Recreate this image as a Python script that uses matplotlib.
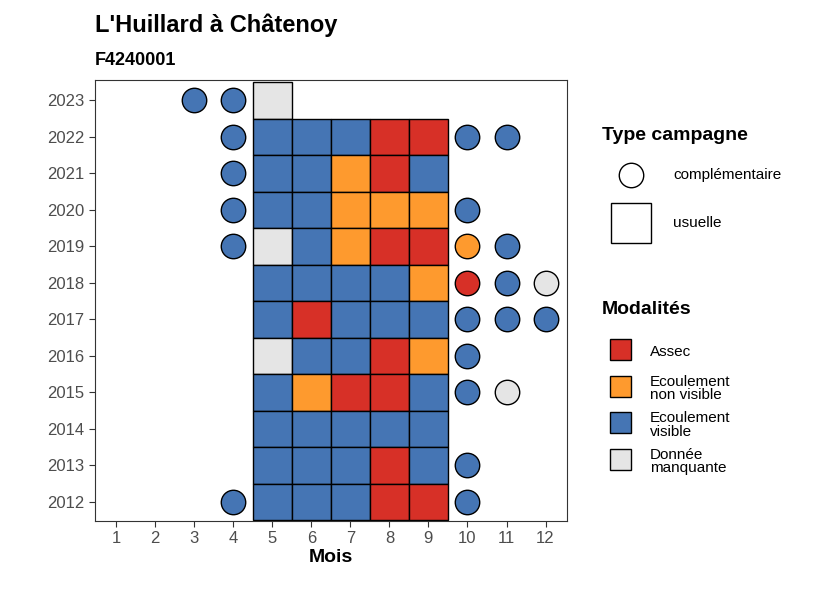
import matplotlib.pyplot as plt
from matplotlib.patches import Rectangle

years = list(range(2012, 2024))
months = list(range(1, 13))
# codes: A=Assec, O=Ecoulement non visible, B=Ecoulement visible, G=Donnee manquante
obs = {
    2023: {3: 'B', 4: 'B', 5: 'G'},
    2022: {4: 'B', 5: 'B', 6: 'B', 7: 'B', 8: 'A', 9: 'A', 10: 'B', 11: 'B'},
    2021: {4: 'B', 5: 'B', 6: 'B', 7: 'O', 8: 'A', 9: 'B'},
    2020: {4: 'B', 5: 'B', 6: 'B', 7: 'O', 8: 'O', 9: 'O', 10: 'B'},
    2019: {4: 'B', 5: 'G', 6: 'B', 7: 'O', 8: 'A', 9: 'A', 10: 'O', 11: 'B'},
    2018: {5: 'B', 6: 'B', 7: 'B', 8: 'B', 9: 'O', 10: 'A', 11: 'B', 12: 'G'},
    2017: {5: 'B', 6: 'A', 7: 'B', 8: 'B', 9: 'B', 10: 'B', 11: 'B', 12: 'B'},
    2016: {5: 'G', 6: 'B', 7: 'B', 8: 'A', 9: 'O', 10: 'B'},
    2015: {5: 'B', 6: 'O', 7: 'A', 8: 'A', 9: 'B', 10: 'B', 11: 'G'},
    2014: {5: 'B', 6: 'B', 7: 'B', 8: 'B', 9: 'B'},
    2013: {5: 'B', 6: 'B', 7: 'B', 8: 'A', 9: 'B', 10: 'B'},
    2012: {4: 'B', 5: 'B', 6: 'B', 7: 'B', 8: 'A', 9: 'A', 10: 'B'},
}
usual_months = [5, 6, 7, 8, 9]
colors = {'A': '#d73027', 'O': '#fe9a2e', 'B': '#4575b4', 'G': '#e5e5e5'}
labels = {'A': 'Assec', 'O': 'Ecoulement\nnon visible',
          'B': 'Ecoulement\nvisible', 'G': 'Donnée\nmanquante'}

plt.rcParams['font.family'] = ['Liberation Sans', 'DejaVu Sans']
fig = plt.figure(figsize=(8.26, 5.9), dpi=100)
ax = fig.add_axes([0.115, 0.117, 0.571, 0.747])

for y, row in obs.items():
    for m, c in row.items():
        if m in usual_months:
            ax.add_patch(Rectangle((m - 0.5, y - 0.5), 1, 1, facecolor=colors[c],
                                   edgecolor='black', linewidth=1, zorder=2))
        else:
            ax.scatter(m, y, s=310, color=colors[c], edgecolors='black',
                       linewidths=1, zorder=3)

ax.set_xlim(0.46, 12.54)
ax.set_ylim(2011.48, 2023.55)
ax.set_xticks(months)
ax.set_yticks(years)
ax.tick_params(labelsize=12, colors='#333333', length=4)
for lab in ax.get_xticklabels() + ax.get_yticklabels():
    lab.set_color('#4d4d4d')
ax.set_xlabel('Mois', fontsize=14, fontweight='bold', labelpad=2)
for s in ax.spines.values():
    s.set_color('#333333')

fig.text(0.115, 0.945, "L'Huillard à Châtenoy", fontsize=17, fontweight='bold')
fig.text(0.115, 0.89, "F4240001", fontsize=13, fontweight='bold')

# legends drawn in pixel coords
lg = fig.add_axes([0, 0, 1, 1])
lg.set_xlim(0, 826)
lg.set_ylim(590, 0)
lg.axis('off')
lg.text(602, 136, 'Type campagne', fontsize=14, fontweight='bold', va='center')
lg.scatter(631, 175, s=310, color='white', edgecolors='black', linewidths=1)
lg.text(673, 175, 'complémentaire', fontsize=11, va='center')
lg.add_patch(Rectangle((611, 203), 40, 40, facecolor='white', edgecolor='black'))
lg.text(673, 223, 'usuelle', fontsize=11, va='center')
lg.text(602, 310, 'Modalités', fontsize=14, fontweight='bold', va='center')
for i, c in enumerate(['A', 'O', 'B', 'G']):
    yc = 349 + i * 36.5
    lg.add_patch(Rectangle((610, yc - 10), 21, 21, facecolor=colors[c], edgecolor='black'))
    lg.text(650, yc + 3, labels[c], fontsize=11, va='center', linespacing=0.95)

fig.savefig('out.png', dpi=100)
